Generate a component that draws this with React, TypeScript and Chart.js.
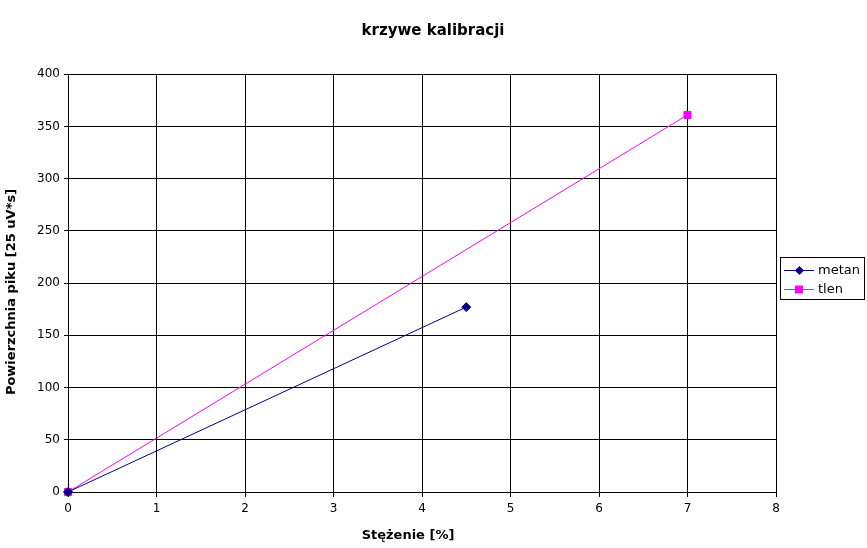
import React, { useEffect, useRef } from "react";
import { Chart, registerables } from "chart.js";

Chart.register(...registerables);

const metanX = [0, 4.5];
const metanY = [0, 177];
const tlenX = [0, 7];
const tlenY = [0, 361];
const seriesNames = ["metan", "tlen"];
const titleText = "krzywe kalibracji";
const xTitle = "Stężenie [%]";
const yTitle = "Powierzchnia piku [25 uV*s]";

const FONT = "'DejaVu Sans', sans-serif";

const textPlugin = {
  id: "textPlugin",
  afterDraw(chart: any) {
    const ctx = chart.ctx;
    ctx.save();
    ctx.fillStyle = "#000";
    ctx.textAlign = "center";
    ctx.textBaseline = "middle";
    ctx.font = `bold 15px ${FONT}`;
    ctx.fillText(titleText, 433, 31);
    ctx.font = `bold 13px ${FONT}`;
    ctx.fillText(xTitle, 408, 536);
    ctx.translate(12, 292);
    ctx.rotate(-Math.PI / 2);
    ctx.fillText(yTitle, 0, 0);
    ctx.restore();
  },
};

const boxLegend = {
  id: "boxLegend",
  afterDraw(chart: any) {
    const ctx = chart.ctx;
    const x0 = 780.5, y0 = 257.5, w = 84, h = 42;
    ctx.save();
    ctx.fillStyle = "#fff";
    ctx.fillRect(x0, y0, w, h);
    ctx.strokeStyle = "#000";
    ctx.lineWidth = 1;
    ctx.strokeRect(x0, y0, w, h);
    chart.data.datasets.forEach((ds: any, i: number) => {
      const y = 270 + i * 19;
      ctx.strokeStyle = ds.borderColor;
      ctx.lineWidth = 1;
      ctx.beginPath();
      ctx.moveTo(784, y + 0.5);
      ctx.lineTo(814, y + 0.5);
      ctx.stroke();
      ctx.fillStyle = ds.pointBackgroundColor;
      if (ds.pointStyle === "rect") {
        ctx.fillRect(795, y - 3.5, 8, 8);
      } else {
        ctx.beginPath();
        ctx.moveTo(799.5, y - 4);
        ctx.lineTo(804, y + 0.5);
        ctx.lineTo(799.5, y + 5);
        ctx.lineTo(795, y + 0.5);
        ctx.closePath();
        ctx.fill();
      }
      ctx.fillStyle = "#000";
      ctx.font = `13px ${FONT}`;
      ctx.textBaseline = "middle";
      ctx.textAlign = "left";
      ctx.fillText(ds.label, 818, y + 1);
    });
    ctx.restore();
  },
};

export default function App() {
  const ref = useRef<HTMLCanvasElement>(null);
  useEffect(() => {
    document.body.style.margin = "0";
    const toPts = (xs: number[], ys: number[]) => xs.map((x, i) => ({ x, y: ys[i] }));
    const chart = new Chart(ref.current!, {
      type: "scatter",
      data: {
        datasets: [
          {
            label: seriesNames[0],
            data: toPts(metanX, metanY),
            showLine: true,
            clip: false,
            borderColor: "#000080",
            backgroundColor: "#000080",
            pointBackgroundColor: "#000080",
            pointBorderColor: "#000080",
            pointStyle: "rectRot",
            pointRadius: 4.5,
            borderWidth: 1,
          },
          {
            label: seriesNames[1],
            data: toPts(tlenX, tlenY),
            showLine: true,
            clip: false,
            borderColor: "#FF00FF",
            backgroundColor: "#FF00FF",
            pointBackgroundColor: "#FF00FF",
            pointBorderColor: "#FF00FF",
            pointStyle: "rect",
            pointRadius: 5,
            borderWidth: 1,
          },
        ],
      },
      options: {
        animation: false,
        responsive: false,
        layout: { padding: { left: 0, right: 91, top: 74.2, bottom: 0 } },
        plugins: {
          legend: { display: false },
          tooltip: { enabled: false },
          title: { display: false },
        },
        scales: {
          x: {
            type: "linear",
            min: 0,
            max: 8,
            ticks: { stepSize: 1, color: "#000", font: { family: FONT, size: 12 }, padding: 5 },
            grid: { color: "#000", lineWidth: 1, tickLength: 5, tickColor: "#000" },
            border: { color: "#000", width: 1 },
            afterFit(scale: any) {
              scale.height = 56;
            },
          },
          y: {
            type: "linear",
            min: 0,
            max: 400,
            ticks: { stepSize: 50, color: "#000", font: { family: FONT, size: 12 }, padding: 4 },
            grid: { color: "#000", lineWidth: 1, tickLength: 4, tickColor: "#000" },
            border: { color: "#000", width: 1 },
            afterFit(scale: any) {
              scale.width = 68;
            },
          },
        },
      },
      plugins: [textPlugin, boxLegend],
    });
    return () => chart.destroy();
  }, []);
  return <canvas ref={ref} width={867} height={548} style={{ display: "block", width: 867, height: 548 }} />;
}
